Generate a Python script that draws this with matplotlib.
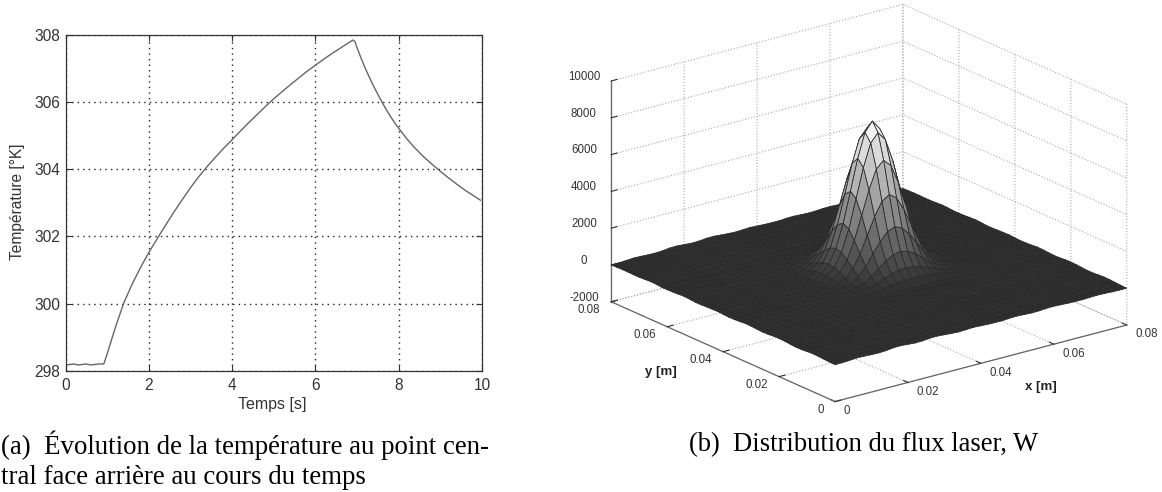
import numpy as np
import matplotlib
matplotlib.use("Agg")
import matplotlib.pyplot as plt
from matplotlib.colors import Normalize

plt.rcParams["font.family"] = ["Liberation Sans", "DejaVu Sans"]

W, H = 1162, 492

# left panel : temperature curve
temps = [0, 0.2, 0.3, 0.5, 0.6, 0.8, 0.92, 1.0, 1.2, 1.4, 1.6, 1.8, 2.0, 2.2, 2.4, 2.6, 2.8, 3.0, 3.2, 3.4,
         3.6, 3.8, 4.0, 4.2, 4.4, 4.6, 4.8, 5.0, 5.2, 5.4, 5.6, 5.8, 6.0, 6.2, 6.4, 6.6, 6.8, 6.9,
         6.95, 7.0, 7.1, 7.2, 7.3, 7.4, 7.5, 7.6, 7.7, 7.8, 7.9, 8.0, 8.2, 8.4, 8.6, 8.8, 9.0,
         9.2, 9.4, 9.6, 9.8, 9.96]
temperature = [298.17, 298.2, 298.17, 298.2, 298.17, 298.2, 298.2, 298.5, 299.3, 300.02, 300.58, 301.07, 301.52,
               301.93, 302.33, 302.72, 303.09, 303.45, 303.78, 304.08, 304.36, 304.63, 304.88, 305.14,
               305.39, 305.63, 305.87, 306.1, 306.31, 306.52, 306.72, 306.92, 307.1, 307.28, 307.45,
               307.61, 307.77, 307.85, 307.8, 307.62, 307.3, 307.0, 306.73, 306.47, 306.23, 306.0,
               305.78, 305.58, 305.39, 305.22, 304.9, 304.62, 304.37, 304.15, 303.94, 303.74, 303.55,
               303.37, 303.21, 303.08]
x_ticks_a = [0, 2, 4, 6, 8, 10]
y_ticks_a = [298, 300, 302, 304, 306, 308]

# right panel : flux map, grid of 41 x 41 nodes every 2 mm
flux_axis = [0, 0.02, 0.04, 0.06, 0.08]
flux_ticklabels = ["0", "0.02", "0.04", "0.06", "0.08"]
z_ticks = [-2000, 0, 2000, 4000, 6000, 8000, 10000]
step = 0.002
n_nodes = 41
center_node = 22
# one quarter of the peak, rows and columns count nodes away from the centre
peak_quarter = [
    [7920, 7410, 6080, 4370, 2750, 1520, 730, 310],
    [7410, 6940, 5690, 4090, 2570, 1420, 690, 290],
    [6080, 5690, 4660, 3350, 2110, 1170, 560, 240],
    [4370, 4090, 3350, 2410, 1520, 840, 410, 170],
    [2750, 2570, 2110, 1520, 960, 530, 250, 110],
    [1520, 1420, 1170, 840, 530, 290, 140, 60],
    [730, 690, 560, 410, 250, 140, 70, 30],
    [310, 290, 240, 170, 110, 60, 30, 10],
]
# slow ripple of the flat part, along each side
floor_x = [0, 10, 30, 60, 50, 30, 20, 40, 90, 100, 70, 40, 50, 90, 100, 70, 40, 20, 40, 60,
           40, 20, 10, 10, 40, 50, 30, 10, 20, 50, 60, 40, 20, 10, 10, 30, 40, 30, 10, 0, 0]
floor_y = [0, 10, 30, 50, 60, 40, 10, 10, 30, 60, 70, 60, 30, 20, 40, 60, 70, 40, 20, 10,
           30, 50, 40, 30, 10, 10, 40, 60, 40, 20, 10, 10, 40, 50, 30, 10, 10, 20, 20, 10, 0]

caption_a = ["(a)  Évolution de la température au point cen-", "tral face arrière au cours du temps"]
caption_b = "(b)  Distribution du flux laser, W"

# surface values
grid = np.arange(n_nodes) * step
X, Y = np.meshgrid(grid, grid)
Z = np.add.outer(np.array(floor_y, dtype=float), np.array(floor_x, dtype=float))
quarter = np.array(peak_quarter, dtype=float)
for i in range(-7, 8):
    for j in range(-7, 8):
        Z[center_node + i, center_node + j] += quarter[abs(i), abs(j)]

fig = plt.figure(figsize=(W / 100, H / 100), dpi=100, facecolor="white")

# (a)
ax = fig.add_axes([65.5 / W, 1 - 370.7 / H, 416.5 / W, 335.7 / H])
ax.plot(temps, temperature, color="#666666", lw=1.0)
ax.set_xlim(0, 10)
ax.set_ylim(298, 308)
ax.set_xticks(x_ticks_a)
ax.set_yticks(y_ticks_a)
ax.grid(True, color="#222222", linestyle=(0, (1, 3)), linewidth=1.0)
ax.tick_params(direction="in", length=4, width=0.8, top=True, right=True, labelsize=11.2,
               colors="#333333", pad=5)
ax.tick_params(axis="y", pad=4)
for s in ax.spines.values():
    s.set_color("#333333")
    s.set_linewidth(0.9)
fig.text(272 / W, 1 - 405 / H, "Temps [s]", ha="center", va="center", fontsize=11.5, color="#333333")
fig.text(18 / W, 1 - 202 / H, "Température [°K]", ha="center", va="center", rotation=90,
         fontsize=11.2, color="#333333")

# (b)
S = 554
cx, cy = 869, 203
left = cx - 0.5135 * S
bottom = (H - cy) - 0.5135 * S
ax3 = fig.add_axes([left / W, bottom / H, S / W, S / H], projection="3d", proj_type="ortho")
ax3.patch.set_alpha(0)
ax3.view_init(elev=20, azim=-127.5)
ax3.set_box_aspect((367.7, 367.7, 235), zoom=1)
ax3.plot_surface(X, Y, Z, rstride=1, cstride=1, cmap="gray", norm=Normalize(-1750, 8000),
                 edgecolor="#2a2a2a", linewidth=0.55, shade=False, antialiased=True)
ax3.set_xlim(0, 0.08)
ax3.set_ylim(0, 0.08)
ax3.set_zlim(-2000, 10000)
ax3.set_xticks(flux_axis)
ax3.set_yticks(flux_axis)
ax3.set_zticks(z_ticks)
ax3.set_xticklabels(flux_ticklabels, ha="left", va="baseline")
ax3.set_yticklabels(flux_ticklabels, ha="right", va="baseline")
ax3.set_zticklabels([str(v) for v in z_ticks], va="baseline")
for a in (ax3.xaxis, ax3.yaxis, ax3.zaxis):
    a.set_pane_color((1, 1, 1, 0))
    a.pane.set_edgecolor((1, 1, 1, 0))
    a.line.set_color("#666666")
    a.line.set_linewidth(0.9)
    a._axinfo["grid"].update(color="#aaaaaa", linestyle=":", linewidth=0.8)
    a._axinfo["tick"].update(inward_factor=0.0, outward_factor=0.25)
    a._axinfo["tick"]["linewidth"] = {True: 0.8, False: 0.8}
    a._axinfo["tick"]["color"] = "#666666"
ax3.tick_params(axis="both", labelsize=8.3, colors="#333333", pad=0)
ax3.tick_params(axis="z", labelsize=8.3, colors="#333333", pad=3)
fig.text(1041 / W, 1 - 387 / H, "x [m]", ha="center", va="center", fontsize=9.5, fontweight="bold", color="#222222")
fig.text(661 / W, 1 - 372 / H, "y [m]", ha="center", va="center", fontsize=9.5, fontweight="bold", color="#222222")

# captions
cap = dict(family=["Liberation Serif"], color="black", va="center")
fig.text(1 / W, 1 - 445 / H, caption_a[0], ha="left", fontsize=19.4, **cap)
fig.text(1 / W, 1 - 478 / H, caption_a[1], ha="left", fontsize=19.4, **cap)
fig.text(689 / W, 1 - 445 / H, caption_b, ha="left", fontsize=19.2, **cap)

fig.savefig("out.png", dpi=100, facecolor="white")
